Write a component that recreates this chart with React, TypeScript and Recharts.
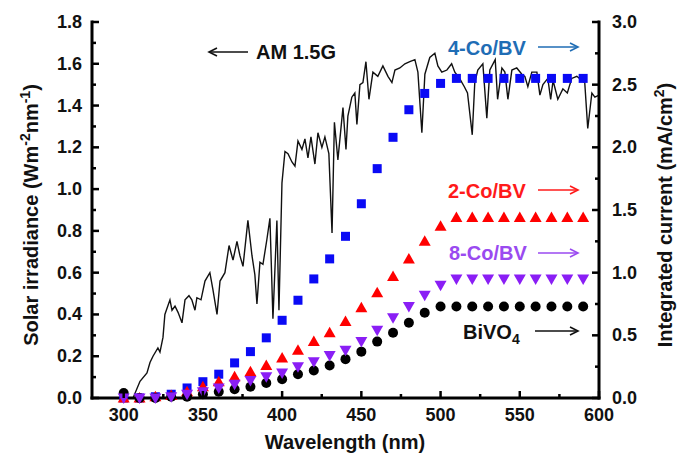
import React from 'react';
import { ComposedChart, Line, Scatter, XAxis, YAxis } from 'recharts';

// sampling points of the integrated current curves (nm)
const wavelengths = [300, 310, 320, 330, 340, 350, 360, 370, 380, 390, 400, 410, 420, 430, 440, 450, 460, 470, 480, 490, 500, 510, 520, 530, 540, 550, 560, 570, 580, 590];

// integrated current, mA/cm2
const coBV4 = [0, 0, 0.01, 0.03, 0.08, 0.13, 0.19, 0.28, 0.37, 0.48, 0.62, 0.78, 0.95, 1.11, 1.29, 1.55, 1.83, 2.08, 2.3, 2.43, 2.51, 2.55, 2.55, 2.55, 2.55, 2.55, 2.55, 2.55, 2.55, 2.55];
const coBV2 = [0, 0, 0.01, 0.02, 0.05, 0.09, 0.13, 0.17, 0.21, 0.26, 0.32, 0.38, 0.45, 0.52, 0.61, 0.72, 0.84, 0.97, 1.11, 1.25, 1.37, 1.44, 1.44, 1.44, 1.44, 1.44, 1.44, 1.44, 1.44, 1.44];
const coBV8 = [0, 0, 0, 0.01, 0.03, 0.05, 0.08, 0.11, 0.14, 0.17, 0.2, 0.25, 0.29, 0.34, 0.38, 0.45, 0.54, 0.64, 0.73, 0.82, 0.9, 0.95, 0.95, 0.95, 0.95, 0.95, 0.95, 0.95, 0.95, 0.95];
const bivo4 = [0.04, 0, 0, 0.01, 0.01, 0.03, 0.05, 0.07, 0.09, 0.12, 0.15, 0.19, 0.22, 0.26, 0.31, 0.37, 0.45, 0.52, 0.6, 0.68, 0.73, 0.73, 0.73, 0.73, 0.73, 0.73, 0.73, 0.73, 0.73, 0.73];

// AM 1.5G spectrum
const solarWl = [305.9, 310.3, 314.7, 316.6, 318.5, 321.6, 322.9, 324.8, 326, 329.2, 330.5, 332.4, 334.3, 336.8, 338.7, 341.2, 343, 345, 346.2, 348.8, 351.3, 354.4, 356.3, 358.9, 360.8, 363.9, 366.5, 369, 371.5, 373.4, 375.3, 378.4, 381, 382.8, 384.1, 386, 387.9, 390.4, 392.3, 394.2, 396.7, 398, 399.9, 401.8, 403.7, 406.2, 408.1, 410, 412.5, 414.4, 416.3, 418.2, 420.7, 422.6, 425.1, 427, 429.5, 431.5, 433, 435.2, 438.4, 440.3, 441.5, 444, 445.9, 447.2, 449.1, 451, 452.9, 454.8, 457.3, 460.4, 463.6, 466.8, 469.3, 471.2, 474.3, 477.5, 480.6, 483.8, 485.7, 488.2, 490.1, 493.2, 496.4, 498.3, 500.8, 504, 507, 509, 512, 515, 517, 520, 521.6, 523.5, 526.7, 529.2, 531.1, 534.5, 536, 538.7, 540.6, 542.5, 545, 548.1, 551.3, 553.2, 555.1, 557.6, 560.8, 562.7, 564.6, 567.7, 569.5, 571, 574, 577.2, 580, 582.8, 586, 589.2, 591, 592.9, 595.5, 597.4, 600];
const solarIrr = [0, 0.08, 0.12, 0.17, 0.2, 0.24, 0.22, 0.29, 0.4, 0.47, 0.42, 0.44, 0.41, 0.36, 0.47, 0.49, 0.47, 0.42, 0.48, 0.47, 0.56, 0.6, 0.52, 0.4, 0.56, 0.6, 0.73, 0.66, 0.75, 0.68, 0.63, 0.85, 0.68, 0.59, 0.45, 0.65, 0.64, 0.76, 0.86, 0.38, 0.85, 0.42, 1.03, 1.18, 1.17, 1.13, 1.11, 1.23, 1.19, 1.24, 1.15, 1.25, 1.12, 1.27, 1.2, 1.25, 1.17, 0.79, 1.32, 1.14, 1.39, 1.19, 1.35, 1.44, 1.46, 1.31, 1.5, 1.51, 1.61, 1.43, 1.56, 1.54, 1.59, 1.54, 1.51, 1.57, 1.58, 1.6, 1.61, 1.62, 1.56, 1.27, 1.55, 1.63, 1.65, 1.59, 1.56, 1.57, 1.6, 1.56, 1.53, 1.49, 1.46, 1.26, 1.51, 1.57, 1.6, 1.34, 1.57, 1.62, 1.43, 1.58, 1.56, 1.43, 1.57, 1.58, 1.55, 1.54, 1.49, 1.56, 1.56, 1.45, 1.5, 1.53, 1.43, 1.52, 1.43, 1.48, 1.46, 1.53, 1.54, 1.52, 1.51, 1.29, 1.46, 1.44, 1.45];

const xTicks = [300, 325, 350, 375, 400, 425, 450, 475, 500, 525, 550, 575, 600];
const xMajor = [300, 350, 400, 450, 500, 550, 600];
const leftTicks = [0, 0.1, 0.2, 0.3, 0.4, 0.5, 0.6, 0.7, 0.8, 0.9, 1.0, 1.1, 1.2, 1.3, 1.4, 1.5, 1.6, 1.7, 1.8];
const leftMajor = [0, 0.2, 0.4, 0.6, 0.8, 1.0, 1.2, 1.4, 1.6, 1.8];
const rightTicks = [0, 0.25, 0.5, 0.75, 1.0, 1.25, 1.5, 1.75, 2.0, 2.25, 2.5, 2.75, 3.0];
const rightMajor = [0, 0.5, 1.0, 1.5, 2.0, 2.5, 3.0];

const toPoints = (ys: number[]) => wavelengths.map((x, i) => ({ x, y: ys[i] }));
const solarData = solarWl.map((x, i) => ({ x, y: solarIrr[i] }));

const FONT = '"Liberation Sans", Arial, sans-serif';
const TICK_FONT = 18;

const BottomTick = (props: any) => {
  const { x, y, payload } = props;
  const major = xMajor.includes(payload.value);
  return (
    <g>
      <line x1={x} x2={x} y1={y} y2={y - (major ? 7 : 4)} stroke="#000" strokeWidth={2.5} />
      {major && (
        <text x={x} y={y + 23} textAnchor="middle" fontFamily={FONT} fontWeight="bold" fontSize={TICK_FONT} fill="#111">
          {payload.value}
        </text>
      )}
    </g>
  );
};

const LeftTick = (props: any) => {
  const { x, y, payload } = props;
  const major = leftMajor.some(v => Math.abs(v - payload.value) < 1e-6);
  return (
    <g>
      <line x1={x} x2={x + (major ? 7 : 4)} y1={y} y2={y} stroke="#000" strokeWidth={2.5} />
      {major && (
        <text x={x - 10} y={y + 6} textAnchor="end" fontFamily={FONT} fontWeight="bold" fontSize={TICK_FONT} fill="#111">
          {payload.value.toFixed(1)}
        </text>
      )}
    </g>
  );
};

const RightTick = (props: any) => {
  const { x, y, payload } = props;
  const major = rightMajor.some(v => Math.abs(v - payload.value) < 1e-6);
  return (
    <g>
      <line x1={x} x2={x - (major ? 7 : 4)} y1={y} y2={y} stroke="#000" strokeWidth={2.5} />
      {major && (
        <text x={x + 13} y={y + 6} textAnchor="start" fontFamily={FONT} fontWeight="bold" fontSize={TICK_FONT} fill="#111">
          {payload.value.toFixed(1)}
        </text>
      )}
    </g>
  );
};

const Square = (p: any) => <rect x={p.cx - 4.5} y={p.cy - 4.5} width={9} height={9} fill="#0a0af5" />;
const TriUp = (p: any) => (
  <path d={`M${p.cx},${p.cy - 6} L${p.cx + 6},${p.cy + 4.5} L${p.cx - 6},${p.cy + 4.5} Z`} fill="#ff0000" />
);
const TriDown = (p: any) => (
  <path d={`M${p.cx},${p.cy + 6} L${p.cx + 6},${p.cy - 4.5} L${p.cx - 6},${p.cy - 4.5} Z`} fill="#8a1ef5" />
);
const Dot = (p: any) => <circle cx={p.cx} cy={p.cy} r={5} fill="#000" />;

const axisLine = { stroke: '#000', strokeWidth: 3, strokeLinecap: 'square' as const };

const Arrow = ({ x1, x2, y, color }: { x1: number; x2: number; y: number; color: string }) => {
  const dir = x2 > x1 ? 1 : -1;
  return (
    <g stroke={color} strokeWidth={1.6} fill="none">
      <line x1={x1} x2={x2} y1={y} y2={y} />
      <polyline points={`${x2 - dir * 8},${y - 4} ${x2},${y} ${x2 - dir * 8},${y + 4}`} />
    </g>
  );
};

const Note = ({ x, y, color, children }: { x: number; y: number; color: string; children: React.ReactNode }) => (
  <text x={x} y={y} fontFamily={FONT} fontWeight="bold" fontSize={20} fill={color}>
    {children}
  </text>
);

export default function App() {
  return (
    <div style={{ position: 'absolute', left: 0, top: 0, width: 678, height: 457, background: '#fff' }}>
      <ComposedChart width={678} height={457} margin={{ top: 22, right: 0, bottom: 0, left: 0 }}>
        <XAxis
          dataKey="x"
          type="number"
          domain={[280, 600]}
          ticks={xTicks}
          interval={0}
          height={59}
          tickSize={0}
          tickMargin={0}
          tickLine={false}
          axisLine={axisLine}
          tick={<BottomTick />}
        />
        <XAxis xAxisId="top" orientation="top" type="number" domain={[280, 600]} height={0} tick={false} tickLine={false} axisLine={axisLine} />
        <YAxis
          yAxisId="left"
          type="number"
          domain={[0, 1.8]}
          ticks={leftTicks}
          interval={0}
          width={92}
          tickSize={0}
          tickMargin={0}
          tickLine={false}
          axisLine={axisLine}
          tick={<LeftTick />}
        />
        <YAxis
          yAxisId="right"
          orientation="right"
          type="number"
          domain={[0, 3]}
          ticks={rightTicks}
          interval={0}
          width={79}
          tickSize={0}
          tickMargin={0}
          tickLine={false}
          axisLine={axisLine}
          tick={<RightTick />}
        />
        <Scatter yAxisId="right" data={toPoints(coBV4)} dataKey="y" shape={<Square />} isAnimationActive={false} />
        <Scatter yAxisId="right" data={toPoints(coBV2)} dataKey="y" shape={<TriUp />} isAnimationActive={false} />
        <Scatter yAxisId="right" data={toPoints(bivo4)} dataKey="y" shape={<Dot />} isAnimationActive={false} />
        <Scatter yAxisId="right" data={toPoints(coBV8)} dataKey="y" shape={<TriDown />} isAnimationActive={false} />
        <Line yAxisId="left" data={solarData} dataKey="y" type="linear" stroke="#111" strokeWidth={1.4} dot={false} isAnimationActive={false} />
      </ComposedChart>

      <svg width={678} height={457} style={{ position: 'absolute', left: 0, top: 0, pointerEvents: 'none' }}>
        <text transform="translate(38,215) rotate(-90)" textAnchor="middle" fontFamily={FONT} fontWeight="bold" fontSize={20} fill="#111">
          Solar irradiance (Wm<tspan dy={-8} fontSize={14}>-2</tspan>
          <tspan dy={8}>nm</tspan>
          <tspan dy={-8} fontSize={14}>-1</tspan>
          <tspan dy={8}>)</tspan>
        </text>
        <text transform="translate(672,215) rotate(-90)" textAnchor="middle" fontFamily={FONT} fontWeight="bold" fontSize={20} fill="#111">
          Integrated current (mA/cm<tspan dy={-8} fontSize={14}>2</tspan>
          <tspan dy={8}>)</tspan>
        </text>
        <text x={345} y={449} textAnchor="middle" fontFamily={FONT} fontWeight="bold" fontSize={20} fill="#111">
          Wavelength (nm)
        </text>

        <Arrow x1={248} x2={209} y={52} color="#111" />
        <Note x={256} y={59} color="#111">AM 1.5G</Note>

        <Note x={448} y={55} color="#1f6db5">4-Co/BV</Note>
        <Arrow x1={538} x2={578} y={47} color="#1f6db5" />

        <Note x={448} y={198} color="#ff1a1a">2-Co/BV</Note>
        <Arrow x1={538} x2={578} y={190} color="#ff1a1a" />

        <Note x={449} y={260} color="#9a4af0">8-Co/BV</Note>
        <Arrow x1={538} x2={578} y={253} color="#9a4af0" />

        <Note x={463} y={339} color="#111">
          BiVO<tspan dy={5} fontSize={14}>4</tspan>
        </Note>
        <Arrow x1={535} x2={578} y={331} color="#111" />
      </svg>
    </div>
  );
}
